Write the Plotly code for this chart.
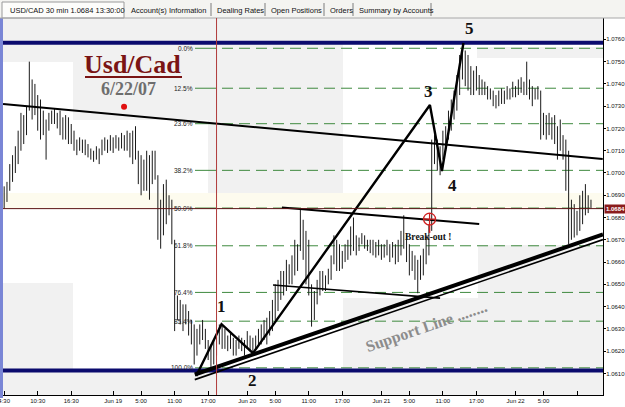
import plotly.graph_objects as go

# ---------------- data (prices in pips above BASE) ----------------
BASE = 1.0600
PIP = 0.0001
FIRST_BAR_HOUR = 4.5      # hours after Jun 18 00:00
BAR_HOURS = 0.5           # 30 min bars

high_pips = [94, 96, 104, 108, 112, 119, 127, 126, 130, 150, 142, 140, 135, 133, 128,
             124, 127, 128, 129, 127, 128, 125, 126, 125, 122, 119, 115, 116, 115, 115,
             113, 111, 110, 112, 111, 115, 116, 115, 117, 116, 117, 116, 118, 117, 119,
             118, 119, 121, 110, 108, 106, 110, 108, 110, 110, 99, 88, 95, 97, 90,
             88, 70, 45, 43, 41, 41, 38, 34, 32, 30, 32, 34, 30, 25, 23,
             25, 27, 32, 32, 30, 27, 28, 26, 25, 27, 26, 25, 29, 27, 26,
             27, 30, 32, 34, 35, 38, 43, 50, 52, 56, 56, 61, 59, 63, 70,
             68, 84, 79, 74, 70, 50, 47, 52, 56, 56, 54, 57, 63, 72, 70,
             68, 65, 68, 70, 76, 80, 72, 71, 73, 72, 70, 70, 70, 69, 70,
             68, 68, 70, 68, 69, 68, 70, 74, 81, 72, 68, 65, 63, 61, 63,
             66, 72, 77, 115, 117, 115, 112, 119, 121, 128, 133, 137, 144, 153, 157,
             155, 153, 148, 146, 148, 144, 142, 141, 139, 138, 137, 135, 137, 138, 137,
             139, 138, 141, 139, 142, 143, 141, 150, 142, 139, 138, 139, 137, 127, 126,
             127, 125, 126, 121, 124, 117, 115, 110, 88, 86, 83, 90, 92, 95, 90,
             88]
low_pips = [84, 87, 92, 96, 100, 104, 110, 113, 117, 128, 124, 126, 119, 115, 117,
            106, 119, 122, 122, 120, 117, 115, 115, 113, 113, 110, 108, 110, 109, 108,
            107, 106, 105, 106, 104, 108, 110, 109, 110, 109, 111, 110, 111, 110, 110,
            107, 104, 106, 95, 90, 92, 92, 88, 95, 97, 70, 66, 72, 77, 81,
            68, 29, 34, 32, 29, 32, 27, 23, 14, 18, 23, 25, 21, 16, 12,
            14, 18, 23, 21, 21, 20, 21, 18, 18, 21, 20, 18, 21, 20, 18,
            21, 22, 23, 25, 23, 27, 29, 34, 38, 43, 45, 47, 50, 50, 54,
            56, 65, 61, 50, 45, 31, 34, 41, 45, 47, 47, 50, 52, 59, 56,
            56, 57, 60, 61, 63, 65, 63, 65, 68, 66, 65, 64, 63, 62, 63,
            61, 62, 63, 60, 62, 59, 60, 63, 66, 60, 54, 56, 52, 46, 52,
            54, 59, 63, 74, 104, 101, 99, 106, 110, 115, 119, 124, 128, 135, 142,
            139, 137, 135, 135, 137, 135, 135, 135, 133, 133, 130, 129, 130, 131, 131,
            133, 133, 134, 134, 135, 136, 135, 135, 133, 130, 133, 133, 115, 117, 115,
            117, 115, 113, 106, 110, 106, 92, 68, 70, 71, 72, 74, 77, 81, 82,
            84]

price_tick_vals = [1.0610, 1.0620, 1.0630, 1.0640, 1.0650, 1.0660, 1.0670, 1.0680,
                   1.0690, 1.0700, 1.0710, 1.0720, 1.0730, 1.0740, 1.0750, 1.0760]
time_tick_hours = [4.5, 10.5, 16.5, 24, 29, 35, 41, 48, 53, 59, 65, 72, 77, 83, 89, 96, 101, 107]
time_tick_text = ["4:30", "10:30", "16:30", "Jun 19", "5:00", "11:00", "17:00", "Jun 20", "5:00",
                  "11:00", "17:00", "Jun 21", "5:00", "11:00", "17:00", "Jun 22", "5:00", ""]

last_price = 1.0684
fib_top = 1.07560
fib_bottom = 1.06125
fib_ratios = [0.0, 0.125, 0.236, 0.382, 0.5, 0.618, 0.764, 0.854, 1.0]
fib_text = ["0.0%", "12.5%", "23.6%", "38.2%", "50.0%", "61.8%", "76.4%", "85.4%", "100.0%"]

channel_top = 1.07585
channel_bottom = 1.06113

resistance_x = [4.3, 111.6]
resistance_y = [1.07310, 1.07063]
neck_x = [54.2, 89.5]
neck_y = [1.06845, 1.06771]
base_x = [52.6, 82.5]
base_y = [1.06497, 1.06438]
support_x = [38.6, 111.65]
support_y = [1.06095, 1.06724]
support2_y = [1.06072, 1.06701]
wave_x = [38.86, 43.39, 49.02, 80.68, 82.83, 86.68]
wave_y = [1.06088, 1.06321, 1.06191, 1.07305, 1.07009, 1.07584]
wave_labels = ["1", "2", "3", "4", "5"]
wave_label_x = [43.3, 48.85, 80.44, 84.73, 87.77]
wave_label_y = [1.06402, 1.06066, 1.07368, 1.06942, 1.07651]
marker_hour = 42.5
breakout_x = 80.62
breakout_y = 1.06793

X_RANGE = [4.29, 111.65]
Y_RANGE = [1.06003, 1.07696]

# ---------------- geometry helpers (page pixels -> paper) ----------------
L, R, T, B = 3, 22, 18, 12
W, H = 625, 407
PW, PH = W - L - R, H - T - B


def pxx(x):
    return (x - L) / PW


def pxy(y):
    return (H - B - y) / PH


def hx(x):  # page pixel -> hour
    return X_RANGE[0] + (x - L) / PW * (X_RANGE[1] - X_RANGE[0])


fig = go.Figure()
shapes = []
annotations = []

# background shading
gray = "#f1f1f1"
for (x0, y0, x1, y1) in [(3, 18, 603, 42), (73, 42, 208, 120), (208, 42, 343, 205),
                         (3, 42, 73, 62), (477, 47, 603, 58), (3, 283, 73, 370),
                         (343, 298, 478, 370), (478, 245, 603, 370), (3, 372, 603, 395)]:
    shapes.append(dict(type="rect", xref="paper", yref="paper", x0=pxx(x0), x1=pxx(x1),
                       y0=pxy(y1), y1=pxy(y0), fillcolor=gray, line_width=0, layer="below"))
shapes.append(dict(type="rect", xref="paper", yref="paper", x0=0, x1=1,
                   y0=pxy(208), y1=pxy(193), fillcolor="#fdfbee", line_width=0, layer="below"))
# left blue frame strip
shapes.append(dict(type="rect", xref="paper", yref="paper", x0=pxx(0), x1=pxx(3),
                   y0=pxy(398), y1=pxy(18), fillcolor="#7a86d6", line_width=0))
# tab bar
shapes.append(dict(type="rect", xref="paper", yref="paper", x0=pxx(0), x1=pxx(625),
                   y0=pxy(18), y1=pxy(0), fillcolor="#f4f4f1", line_width=0))
shapes.append(dict(type="rect", xref="paper", yref="paper", x0=pxx(2), x1=pxx(124),
                   y0=pxy(18), y1=pxy(2), fillcolor="#fdfdfb", line=dict(color="#9a9a9a", width=1)))
for sx in [211, 265, 324, 353, 431]:
    shapes.append(dict(type="line", xref="paper", yref="paper", x0=pxx(sx), x1=pxx(sx),
                       y0=pxy(16), y1=pxy(3), line=dict(color="#7d7d7d", width=1)))
shapes.append(dict(type="line", xref="paper", yref="paper", x0=pxx(0), x1=pxx(625),
                   y0=pxy(18), y1=pxy(18), line=dict(color="#a8a8a8", width=1)))
tabs = [("USD/CAD 30 min 1.0684 13:30:00", 8), ("Account(s) Information", 129),
        ("Dealing Rates", 215), ("Open Positions", 269), ("Orders", 328),
        ("Summary by Accounts", 357)]
for txt, tx in tabs:
    annotations.append(dict(text=txt, xref="paper", yref="paper", x=pxx(tx), y=pxy(10),
                            xanchor="left", yanchor="middle", showarrow=False,
                            font=dict(family="Liberation Sans", size=7.5, color="#111")))

# current price line
shapes.append(dict(type="line", xref="paper", yref="y", x0=0, x1=1, y0=last_price, y1=last_price,
                   line=dict(color="#5c1414", width=1)))
# red vertical marker
shapes.append(dict(type="line", xref="x", yref="paper", x0=marker_hour, x1=marker_hour, y0=0, y1=1,
                   line=dict(color="#b03a3a", width=1)))

# fibonacci levels
fib_range = fib_top - fib_bottom
for r, t in zip(fib_ratios, fib_text):
    lvl = fib_top - r * fib_range
    fig.add_trace(go.Scatter(x=[hx(205), X_RANGE[1]], y=[lvl, lvl], mode="lines",
                             line=dict(color="#3f8a3f", width=1, dash="11px,6px"), hoverinfo="skip"))
    fig.add_trace(go.Scatter(x=[hx(195), hx(205)], y=[lvl, lvl], mode="lines",
                             line=dict(color="#3f8a3f", width=1), hoverinfo="skip"))
    annotations.append(dict(text=t, x=hx(195), y=lvl, xanchor="right", yanchor="middle",
                            showarrow=False, font=dict(family="Liberation Sans", size=6.5, color="#222")))

# price bars (high-low)
bx, by = [], []
for i, (hp, lp) in enumerate(zip(high_pips, low_pips)):
    t = FIRST_BAR_HOUR + i * BAR_HOURS
    bx += [t, t, None]
    by += [BASE + lp * PIP, BASE + hp * PIP, None]
fig.add_trace(go.Scatter(x=bx, y=by, mode="lines", line=dict(color="#1a1a1a", width=1),
                         hoverinfo="skip"))

# channel (navy) lines
for lvl in [channel_top, channel_bottom]:
    fig.add_trace(go.Scatter(x=X_RANGE, y=[lvl, lvl], mode="lines",
                             line=dict(color="#0b0b6e", width=4), hoverinfo="skip"))

# trend lines
fig.add_trace(go.Scatter(x=resistance_x, y=resistance_y, mode="lines",
                         line=dict(color="black", width=2), hoverinfo="skip"))
fig.add_trace(go.Scatter(x=neck_x, y=neck_y, mode="lines",
                         line=dict(color="black", width=2), hoverinfo="skip"))
fig.add_trace(go.Scatter(x=base_x, y=base_y, mode="lines",
                         line=dict(color="black", width=1.6), hoverinfo="skip"))
fig.add_trace(go.Scatter(x=support_x, y=support_y, mode="lines",
                         line=dict(color="black", width=4), hoverinfo="skip"))
fig.add_trace(go.Scatter(x=support_x, y=support2_y, mode="lines",
                         line=dict(color="black", width=1.6), hoverinfo="skip"))
fig.add_trace(go.Scatter(x=wave_x, y=wave_y, mode="lines",
                         line=dict(color="black", width=2.4), hoverinfo="skip"))

# breakout marker
fig.add_trace(go.Scatter(x=[breakout_x], y=[breakout_y], mode="markers",
                         marker=dict(symbol="circle-cross-open", size=12, color="#d02020",
                                     line=dict(width=1.3)), hoverinfo="skip"))
fig.add_trace(go.Scatter(x=[breakout_x, breakout_x], y=[breakout_y - 0.00027, breakout_y - 0.00062],
                         mode="lines", line=dict(color="#d02020", width=1.5), hoverinfo="skip"))
# red dot under date
fig.add_trace(go.Scatter(x=[25.95], y=[1.07297], mode="markers",
                         marker=dict(size=6, color="#e01010"), hoverinfo="skip"))

serif = "Liberation Serif"
for t, x, y in zip(wave_labels, wave_label_x, wave_label_y):
    annotations.append(dict(text="<b>%s</b>" % t, x=x, y=y, showarrow=False,
                            font=dict(family=serif, size=17, color="#111")))
annotations.append(dict(text="<b>Usd/Cad</b>", x=27.55, y=1.07489, showarrow=False,
                        font=dict(family=serif, size=26, color="#7a1414")))
shapes.append(dict(type="line", xref="paper", yref="paper", x0=pxx(85), x1=pxx(182),
                   y0=pxy(77), y1=pxy(77), line=dict(color="#7a1414", width=2)))
annotations.append(dict(text="<b>6/22/07</b>", x=26.66, y=1.07378, showarrow=False,
                        font=dict(family=serif, size=18, color="#6e6e6e")))
annotations.append(dict(text="<b>Break-out !</b>", x=80.44, y=1.06712, showarrow=False,
                        font=dict(family=serif, size=9.5, color="#111")))
annotations.append(dict(text="<b>Support Line ........</b>", x=79.98, y=1.06308, showarrow=False,
                        textangle=-19, font=dict(family=serif, size=16, color="#8c8c8c")))
# highlighted last price on the axis
annotations.append(dict(text="<b>1.0684</b>", xref="paper", yref="y", x=pxx(604), y=last_price,
                        xanchor="left", yanchor="middle", showarrow=False, bgcolor="#8b1c1c",
                        borderpad=1, font=dict(family="Liberation Sans", size=6, color="white")))

fig.update_layout(
    width=W, height=H, margin=dict(l=L, r=R, t=T, b=B, autoexpand=False),
    paper_bgcolor="white", plot_bgcolor="white", showlegend=False,
    shapes=shapes, annotations=annotations,
    xaxis=dict(range=X_RANGE, tickvals=time_tick_hours, ticktext=time_tick_text,
               ticks="inside", ticklen=4, tickcolor="black", showgrid=False, zeroline=False,
               showline=True, linecolor="black", linewidth=1, ticklabeloverflow="allow",
               automargin=False,
               tickfont=dict(family="Liberation Sans", size=6, color="#111")),
    yaxis=dict(range=Y_RANGE, side="right", tickvals=price_tick_vals,
               ticktext=["%.4f" % v for v in price_tick_vals], automargin=False,
               ticks="outside", ticklen=2, tickcolor="black", showgrid=False, zeroline=False,
               showline=True, linecolor="black", linewidth=1, ticklabelstandoff=-1,
               tickfont=dict(family="Liberation Sans", size=6, color="#111")),
)

fig.write_html("out.html")
